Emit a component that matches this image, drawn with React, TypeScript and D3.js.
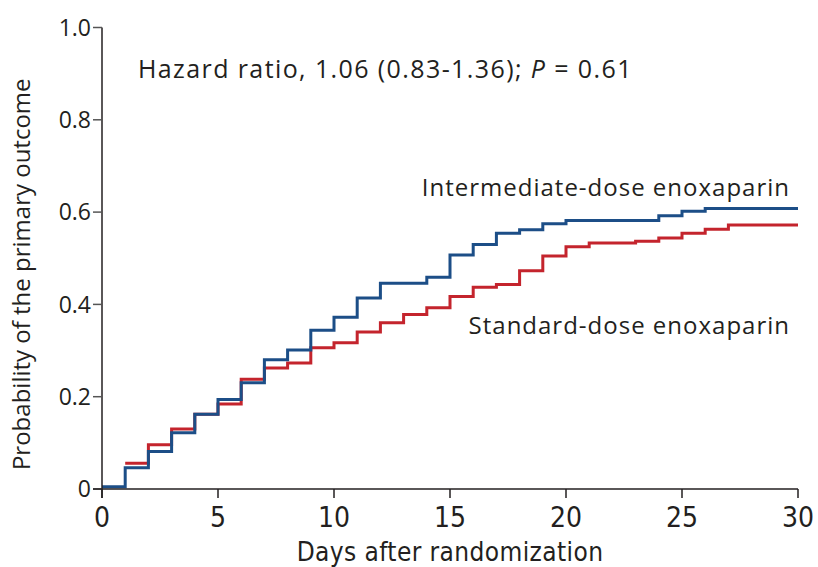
import React from "react";
import * as d3 from "d3";

// days after randomization
const days = [0, 1, 2, 3, 4, 5, 6, 7, 8, 9, 10, 11, 12, 13, 14, 15, 16, 17, 18, 19, 20, 21, 22, 23, 24, 25, 26, 27, 28, 29, 30];

const intermediate = [
  0.005, 0.046, 0.081, 0.122, 0.162, 0.194, 0.23, 0.28, 0.301, 0.344, 0.372,
  0.414, 0.446, 0.446, 0.459, 0.507, 0.53, 0.554, 0.562, 0.575, 0.582,
  0.582, 0.582, 0.582, 0.592, 0.602, 0.608, 0.608, 0.608, 0.608, 0.608,
];

// standard arm has no line before day 1
const standard = [
  null, 0.056, 0.096, 0.13, 0.162, 0.184, 0.238, 0.262, 0.273, 0.306, 0.317,
  0.34, 0.36, 0.378, 0.393, 0.417, 0.437, 0.443, 0.473, 0.505, 0.525,
  0.533, 0.533, 0.537, 0.544, 0.554, 0.563, 0.572, 0.572, 0.572, 0.572,
];

const xTicks = [0, 5, 10, 15, 20, 25, 30];
const yTicks = [0, 0.2, 0.4, 0.6, 0.8, 1.0];
const yTickLabels = ["0", "0.2", "0.4", "0.6", "0.8", "1.0"];

const width = 818;
const height = 567;
const ink = "#231f20";
const font = "'Open Sans', 'DejaVu Sans', sans-serif";
const condensed = "'DejaVu Sans Condensed', 'DejaVu Sans', sans-serif";

export default function App() {
  const x = d3.scaleLinear().domain([0, 30]).range([102, 798]);
  const y = d3.scaleLinear().domain([0, 1]).range([489, 27.5]);

  const line = d3
    .line<[number, number | null]>()
    .defined((d) => d[1] != null)
    .x((d) => x(d[0]))
    .y((d) => y(d[1] as number))
    .curve(d3.curveStepAfter);

  const blue = line(days.map((d, i) => [d, intermediate[i]]));
  const red = line(days.map((d, i) => [d, standard[i]]));

  return (
    <svg
      width={width}
      height={height}
      style={{ position: "absolute", left: 0, top: 0, background: "#fff" }}
    >
      {/* curves */}
      <path d={red ?? ""} fill="none" stroke="#c4242d" strokeWidth={3} />
      <path d={blue ?? ""} fill="none" stroke="#1c4e87" strokeWidth={3} />

      {/* y axis */}
      <line x1={x(0)} x2={x(0)} y1={y(1)} y2={y(0) + 9} stroke={ink} strokeWidth={1.5} />
      {yTicks.map((t, i) => (
        <g key={t}>
          <line x1={x(0) - 9} x2={x(0)} y1={y(t)} y2={y(t)} stroke="#555" strokeWidth={1.5} />
          <text
            x={x(0) - 11}
            y={y(t)}
            dy="0.36em"
            textAnchor="end"
            fontFamily={font}
            fontSize={23}
            fill={ink}
          >
            {yTickLabels[i]}
          </text>
        </g>
      ))}

      {/* x axis */}
      <line x1={x(0) - 9} x2={x(30)} y1={y(0)} y2={y(0)} stroke={ink} strokeWidth={1.5} />
      {xTicks.map((t) => (
        <g key={t}>
          <line x1={x(t)} x2={x(t)} y1={y(0)} y2={y(0) + 9} stroke={ink} strokeWidth={1.5} />
          <text
            x={x(t)}
            y={527}
            textAnchor="middle"
            fontFamily={condensed}
            fontStretch="condensed"
            fontSize={28}
            fill={ink}
          >
            {t}
          </text>
        </g>
      ))}

      <text
        x={450}
        y={561}
        textAnchor="middle"
        fontFamily={condensed}
        fontStretch="condensed"
        fontSize={26}
        letterSpacing={0.4}
        fill={ink}
      >
        Days after randomization
      </text>

      <text
        transform={`translate(30,${y(0.5) + 16}) rotate(-90)`}
        textAnchor="middle"
        fontFamily={font}
        fontSize={24}
        fill={ink}
      >
        Probability of the primary outcome
      </text>

      <text x={138} y={78} fontFamily={font} fontSize={25} letterSpacing={1.4} fill={ink}>
        Hazard ratio, 1.06 (0.83-1.36); <tspan fontStyle="italic">P</tspan> = 0.61
      </text>

      <text x={790} y={196} textAnchor="end" fontFamily={font} fontSize={24} letterSpacing={1} fill={ink}>
        Intermediate-dose enoxaparin
      </text>
      <text x={790} y={334} textAnchor="end" fontFamily={font} fontSize={24} letterSpacing={1} fill={ink}>
        Standard-dose enoxaparin
      </text>
    </svg>
  );
}
